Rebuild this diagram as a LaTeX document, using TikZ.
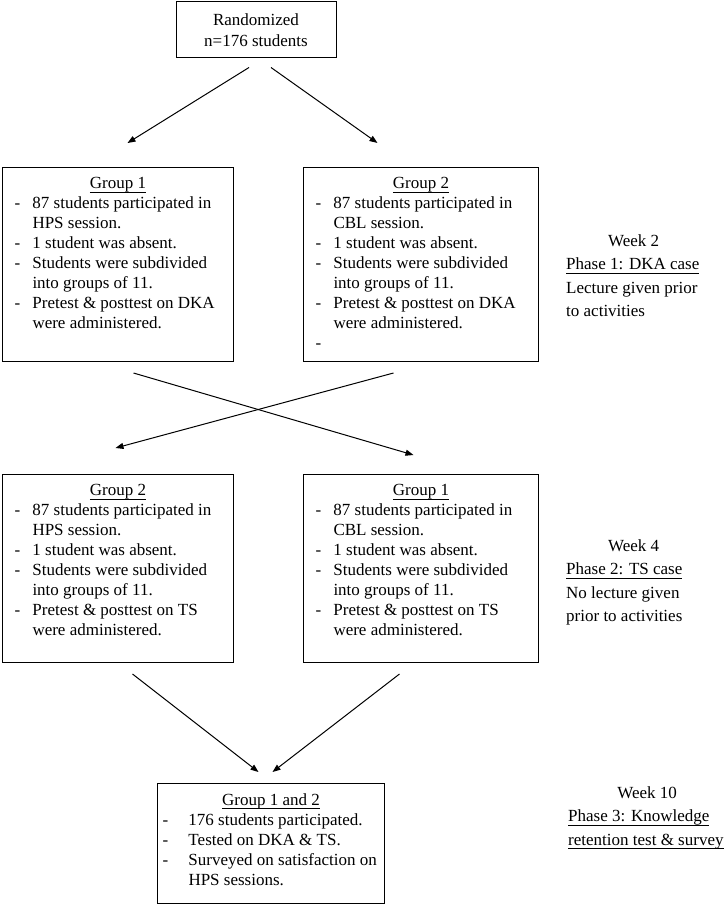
\documentclass[tikz,border=0pt]{standalone}
\usepackage{fontspec}
\setmainfont{Liberation Serif}
\usetikzlibrary{arrows.meta,calc}

\newlength\dw
\setlength\dw{18pt}
\newcommand{\ul}[1]{\underline{\raisebox{0pt}[\height][1.8pt]{#1}}}
\newcommand{\itm}[1]{\makebox[\dw][l]{-}#1\par}
\newcommand{\cnt}[1]{\hspace*{\dw}#1\par}
\newcommand{\head}[1]{{\centering\ul{#1}\par}}

\begin{document}
\begin{tikzpicture}[x=1pt,y=-1pt,
	box/.style={draw,line width=1pt,inner xsep=12pt,inner ysep=10pt,anchor=north west,font=\fontsize{17}{20}\selectfont},
	note/.style={anchor=base west,inner sep=0pt,font=\fontsize{17}{23.5}\selectfont},
	arr/.style={line width=1pt,-{Triangle[length=8pt,width=6pt]}}]
	\useasboundingbox (0,0) rectangle (726,907);

	\node[draw,line width=1pt,align=center,minimum width=160pt,minimum height=56pt,
		font=\fontsize{17}{21}\selectfont] (rand) at (256,30) {Randomized\\n=176 students};

	% week 2
	\node[box] (g1a) at (2,167) {\parbox[t][174pt][t]{207pt}{\head{Group 1}
		\itm{87 students participated in}\cnt{HPS session.}\itm{1 student was absent.}
		\itm{Students were subdivided}\cnt{into groups of 11.}
		\itm{Pretest \& posttest on DKA}\cnt{were administered.}}};
	\node[box] (g2a) at (303,167) {\parbox[t][174pt][t]{211pt}{\head{Group 2}
		\itm{87 students participated in}\cnt{CBL session.}\itm{1 student was absent.}
		\itm{Students were subdivided}\cnt{into groups of 11.}
		\itm{Pretest \& posttest on DKA}\cnt{were administered.}\itm{}}};

	% week 4
	\node[box] (g2b) at (2,474) {\parbox[t][168pt][t]{207pt}{\head{Group 2}
		\itm{87 students participated in}\cnt{HPS session.}\itm{1 student was absent.}
		\itm{Students were subdivided}\cnt{into groups of 11.}
		\itm{Pretest \& posttest on TS}\cnt{were administered.}}};
	\node[box] (g1b) at (303,474) {\parbox[t][168pt][t]{211pt}{\head{Group 1}
		\itm{87 students participated in}\cnt{CBL session.}\itm{1 student was absent.}
		\itm{Students were subdivided}\cnt{into groups of 11.}
		\itm{Pretest \& posttest on TS}\cnt{were administered.}}};

	% week 10
	\node[box,inner xsep=5pt] (all) at (157,783) {\parbox[t][100pt][t]{217pt}{\setlength\dw{26pt}\head{Group 1 and 2}
		\itm{176 students participated.}\itm{Tested on DKA \& TS.}
		\itm{Surveyed on satisfaction on}\cnt{HPS sessions.}}};

	\node[note] (w2) at (566,246) {\parbox[t]{135pt}{\centering Week 2\par\raggedright
		\ul{Phase 1: DKA case}\par Lecture given prior\par to activities}};
	\node[note] (w4) at (566,551) {\parbox[t]{135pt}{\centering Week 4\par\raggedright
		\ul{Phase 2: TS case}\par No lecture given\par prior to activities}};
	\node[note] (w10) at (568,798) {\parbox[t]{158pt}{\centering Week 10\par\raggedright
		\ul{Phase 3: Knowledge}\par\ul{retention test \& survey}}};

	\draw[arr] ($(rand.south)+(-7,9)$) -- ($(g1a.north)+(9.5,-24)$);
	\draw[arr] ($(rand.south)+(15,9)$) -- ($(g2a.north)+(-43.5,-24)$);
	\draw[arr] ($(g1a.south)+(15.5,11)$) -- ($(g1b.north)+(-7.5,-19)$);
	\draw[arr] ($(g2a.south)+(-27.5,11)$) -- ($(g2b.north)+(-2.5,-26)$);
	\draw[arr] ($(g2b.south)+(14.5,11)$) -- ($(all.north)+(-12.5,-11)$);
	\draw[arr] ($(g1b.south)+(-21.5,11)$) -- ($(all.north)+(1.5,-11)$);
\end{tikzpicture}
\end{document}
